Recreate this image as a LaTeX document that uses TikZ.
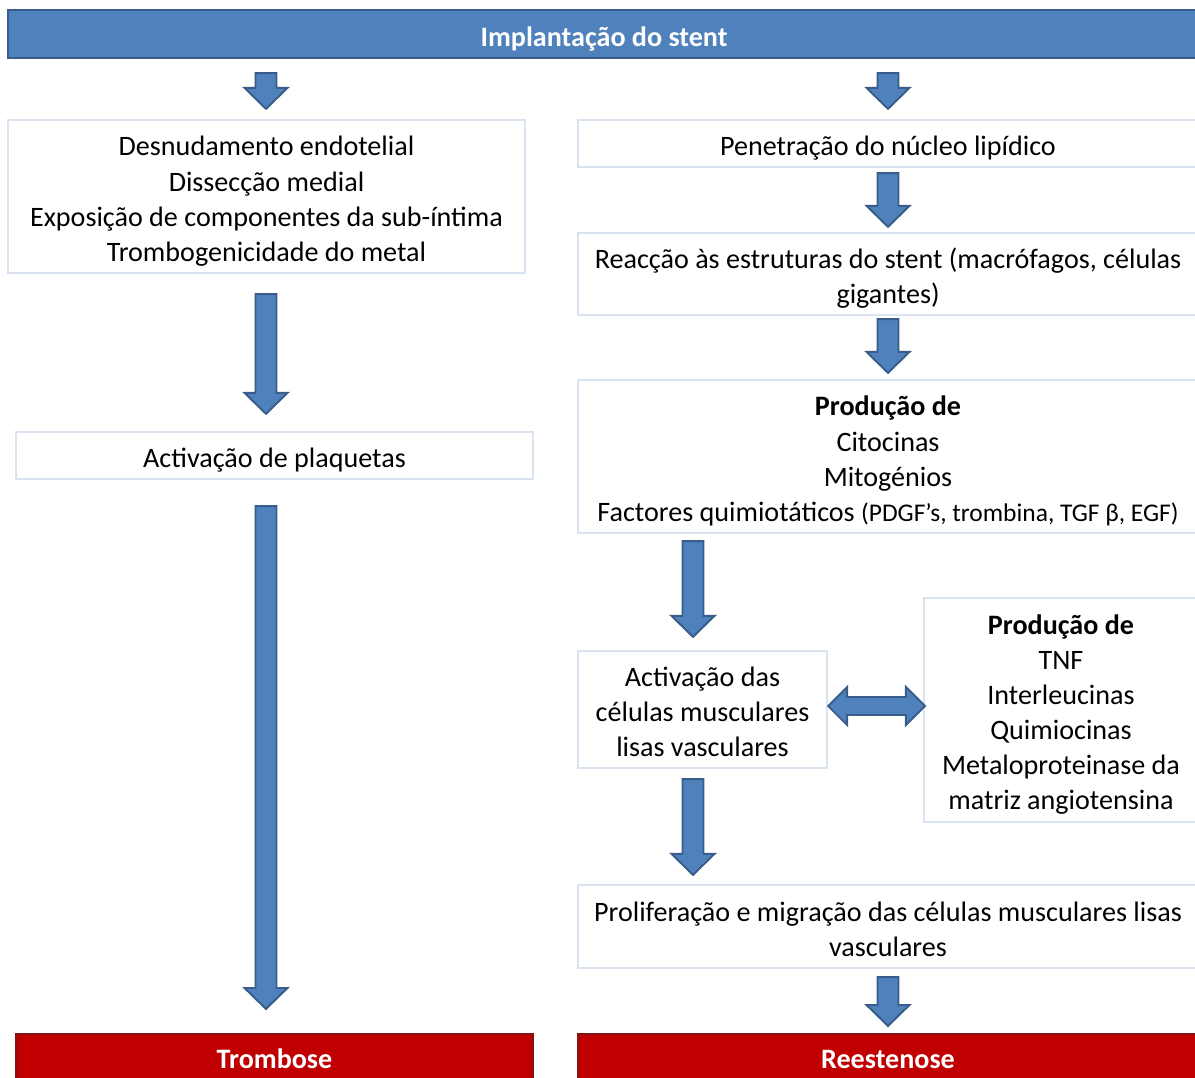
\documentclass[tikz,border=0pt]{standalone}
\usepackage{fontspec}
\setmainfont{Carlito}
\usetikzlibrary{calc}
\definecolor{pBlue}{RGB}{79,129,189}
\definecolor{pBlueDark}{RGB}{56,93,138}
\definecolor{pRed}{RGB}{192,0,0}
\definecolor{pRedDark}{RGB}{128,20,20}
\definecolor{pFrame}{RGB}{218,227,240}

% strut for the first line of a text
\newcommand{\topstrut}{\rule{0pt}{18pt}}

\tikzset{
  txt/.style={font=\fontsize{16}{20}\selectfont, align=center, inner sep=0pt,
    execute at begin node={\topstrut}, execute at end node={\rule[-4.2pt]{0pt}{4.2pt}}},
  panel/.style={txt, draw=pFrame, line width=1.3pt, fill=white},
  header/.style={txt, draw=pBlueDark, line width=1.2pt, fill=pBlue, text=white, font=\fontsize{16}{20}\selectfont\bfseries},
  outcome/.style={align=center, inner sep=0pt, draw=pRedDark, line width=1.2pt, fill=pRed, text=white,
    font=\fontsize{16}{20}\selectfont\bfseries,
    execute at begin node={\rule{0pt}{14pt}}, execute at end node={\rule[-4.2pt]{0pt}{4.2pt}}},
  blockarrow/.style={draw=pBlueDark, fill=pBlue, line width=1.1pt, line join=miter}
}

% block arrow pointing down, from #1 to the tip #2
\newcommand{\downarr}[2]{%
  \draw[blockarrow] let \p1=(#1), \p2=(#2) in
    (\x1-0.21cm,\y1) -- (\x1+0.21cm,\y1) -- (\x1+0.21cm,\y2+0.42cm) -- (\x1+0.43cm,\y2+0.42cm)
    -- (\x1,\y2) -- (\x1-0.43cm,\y2+0.42cm) -- (\x1-0.21cm,\y2+0.42cm) -- cycle;}
% block arrow with two heads, from tip #1 to tip #2
\newcommand{\lrarr}[2]{%
  \draw[blockarrow] let \p1=(#1), \p2=(#2) in
    (\x1,\y1) -- (\x1+0.38cm,\y1+0.38cm) -- (\x1+0.38cm,\y1+0.18cm) -- (\x2-0.38cm,\y1+0.18cm)
    -- (\x2-0.38cm,\y1+0.38cm) -- (\x2,\y1) -- (\x2-0.38cm,\y1-0.38cm) -- (\x2-0.38cm,\y1-0.18cm)
    -- (\x1+0.38cm,\y1-0.18cm) -- (\x1+0.38cm,\y1-0.38cm) -- cycle;}

\begin{document}
\begin{tikzpicture}[x=0.02cm, y=-0.02cm]
    \useasboundingbox (0,0) rectangle (1195,1077);
    \clip (0,0) rectangle (1195,1077);

    % Columns of the arrows
    \coordinate (cL) at (266,0);
    \coordinate (cM) at (693,0);
    \coordinate (cR) at (888,0);

    % Top bar
    \node[header, minimum width=23.84cm, minimum height=0.96cm] (stent) at (604,34) {Implantação do stent};

    % Left column
    \node[panel, minimum width=10.34cm, minimum height=3.06cm] (endot) at (266.5,196.5)
        {\topstrut Desnudamento endotelial\\Dissecção medial\\Exposição de componentes da sub-íntima\\Trombogenicidade do metal};
    \node[panel, minimum width=10.34cm, minimum height=0.94cm] (plaq) at (274.5,455.5) {Activação de plaquetas};
    \node[outcome, minimum width=10.34cm, minimum height=1.04cm] (tromb) at (274.5,1060) {Trombose};

    % Right column
    \node[panel, minimum width=12.4cm, minimum height=0.94cm] (lipid) at (888,143.5) {Penetração do núcleo lipídico};
    \node[panel, minimum width=12.4cm, minimum height=1.64cm] (reac) at (888,274)
        {\topstrut Reacção às estruturas do stent (macrófagos, células\\gigantes)};
    \node[panel, minimum width=12.4cm, minimum height=3.06cm] (prod) at (888,456.5)
        {\topstrut\textbf{Produção de}\\Citocinas\\Mitogénios\\Factores quimiotáticos {\fontsize{14.5}{20}\selectfont(PDGF’s, trombina, TGF β, EGF)}};
    \node[panel, minimum width=4.98cm, minimum height=2.34cm] (musc) at (702.5,709.5)
        {\topstrut Activação das\\células musculares\\lisas vasculares};
    \node[panel, minimum width=5.48cm, minimum height=4.48cm] (tnf) at (1061,710)
        {\topstrut\textbf{Produção de}\\TNF\\Interleucinas\\Quimiocinas\\Metaloproteinase da\\matriz angiotensina};
    \node[panel, minimum width=12.4cm, minimum height=1.66cm] (prolif) at (888,926.5)
        {\topstrut Proliferação e migração das células musculares lisas\\vasculares};
    \node[outcome, minimum width=12.4cm, minimum height=1.04cm] (reest) at (888,1060) {Reestenose};

    % Arrows
    \downarr{$(stent.south -| cL)+(0,14)$}{$(endot.north -| cL)+(0,-10)$}
    \downarr{$(stent.south -| cR)+(0,14)$}{$(lipid.north -| cR)+(0,-10)$}
    \downarr{$(endot.south -| cL)+(0,20)$}{$(plaq.north -| cL)+(0,-17)$}
    \downarr{$(plaq.south -| cL)+(0,26)$}{$(tromb.north -| cL)+(0,-24)$}
    \downarr{$(lipid.south -| cR)+(0,5)$}{$(reac.north -| cR)+(0,-5)$}
    \downarr{$(reac.south -| cR)+(0,3)$}{$(prod.north -| cR)+(0,-6)$}
    \downarr{$(prod.south -| cM)+(0,7)$}{$(musc.north -| cM)+(0,-13)$}
    \downarr{$(musc.south -| cM)+(0,10)$}{$(prolif.north -| cM)+(0,-9)$}
    \downarr{$(prolif.south -| cR)+(0,8)$}{$(reest.north -| cR)+(0,-7)$}
    \lrarr{$(musc.east)+(0,-3.5)$}{$(tnf.west)+(2,-4)$}

\end{tikzpicture}
\end{document}
